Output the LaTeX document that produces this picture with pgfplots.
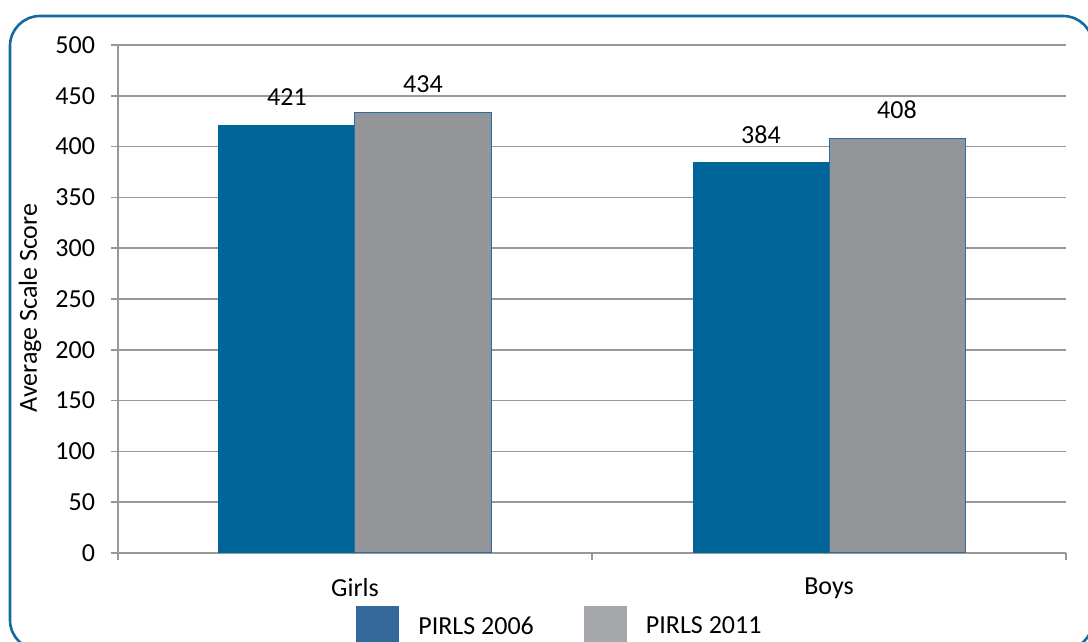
\documentclass[border=0pt]{standalone}
\usepackage{pgfplots}
\pgfplotsset{compat=1.18}
\usepackage{fontspec}
\setmainfont{Carlito}
\definecolor{barblue}{RGB}{0,101,153}
\definecolor{bargray}{RGB}{147,149,152}
\definecolor{baredge}{RGB}{40,110,160}
\definecolor{legblue}{RGB}{52,103,154}
\definecolor{leggray}{RGB}{166,167,171}
\definecolor{framecol}{RGB}{20,105,160}
\definecolor{gridgray}{RGB}{152,152,152}
\begin{document}
\begin{tikzpicture}[x=1pt,y=1pt]
\useasboundingbox (0,0) rectangle (544,321);
\clip (0,0) rectangle (544,321);
\draw[framecol, line width=1.3pt, rounded corners=15pt] (5,-4) rectangle (546.5,313);
\begin{axis}[
  at={(59pt,44.5pt)}, anchor=south west,
  scale only axis, width=474pt, height=254pt,
  xmin=0, xmax=2, ymin=0, ymax=500,
  ybar=0pt, bar width=68pt,
  axis x line=bottom, axis y line=left,
  axis line style={gridgray, line width=0.75pt, -},
  ymajorgrids, grid style={gridgray, line width=0.75pt},
  ytick={0,50,...,500},
  xtick={0,1,2}, xticklabels={},
  extra x ticks={0.5,1.5}, extra x tick labels={Girls,Boys},
  extra x tick style={major tick length=0pt, grid=none, xticklabel style={yshift=-9pt}},
  tick align=outside, major tick length=3.5pt,
  tick style={gridgray, line width=0.75pt},
  /pgf/number format/assume math mode=true,
  every tick label/.append style={font=\fontsize{13}{15}\selectfont, text=black},
  yticklabel style={xshift=-4.5pt},
  every axis y label/.style={at={(axis description cs:-0.0928,0.482)}, rotate=90, anchor=center, font=\fontsize{13}{15}\selectfont},
  ylabel={Average Scale Score},
  nodes near coords,
  every node near coord/.append style={font=\fontsize{13}{15}\selectfont, text=black, anchor=south, inner sep=0pt, yshift=9.5pt},
  legend columns=2,
  legend image code/.code={\fill[#1] (0pt,-10.75pt) rectangle (21.5pt,10.75pt);},
  legend style={at={(axis description cs:0.251,-0.1457)}, anchor=west, draw=none, fill=none, inner sep=0pt,
    font=\fontsize{13}{15}\selectfont,
    nodes={inner sep=0pt},
    /tikz/every odd column/.style={column sep=9.5pt},
    /tikz/every even column/.style={column sep=25pt}},
]
\addplot[fill=barblue, draw=barblue, line width=0.5pt, bar shift=-34pt, forget plot] coordinates {(0.5,421) (1.5,384)};
\addplot[fill=bargray, draw=baredge, line width=0.5pt, bar shift=34pt, forget plot] coordinates {(0.5,434) (1.5,408)};
\addlegendimage{fill=legblue, draw=none}
\addlegendentry{PIRLS 2006}
\addlegendimage{fill=leggray, draw=none}
\addlegendentry{PIRLS 2011}
\end{axis}
\end{tikzpicture}
\end{document}
